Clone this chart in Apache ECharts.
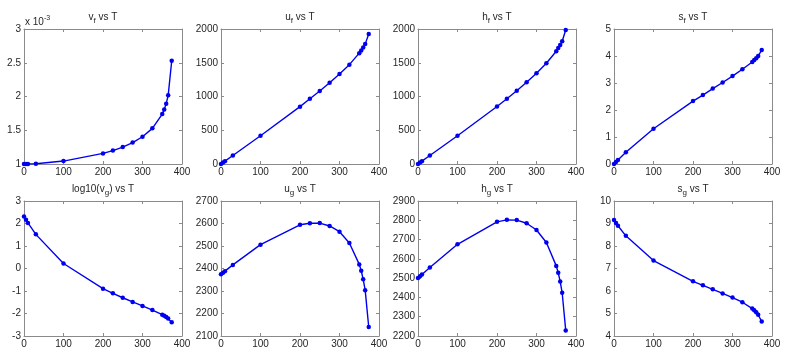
<!DOCTYPE html>
<html>
<head>
<meta charset="utf-8">
<script src="https://cdn.jsdelivr.net/npm/echarts@6/dist/echarts.min.js"></script>
<style>
html,body{margin:0;padding:0;background:#fff;}
#c{width:800px;height:360px;}
</style>
</head>
<body>
<div id="c"></div>
<script>
// Temperature (°C)
const T = [0.01, 5, 10, 30, 100, 200, 225, 250, 275, 300, 325, 350, 355, 360, 365, 374];
// v_f in units of 1e-3 m^3/kg
const vf = [1.0002, 1.0001, 1.0003, 1.0044, 1.0435, 1.157, 1.199, 1.251, 1.317, 1.404, 1.528, 1.740, 1.809, 1.894, 2.017, 2.53];
const uf = [0, 21, 42, 126, 419, 850, 966, 1081, 1204, 1333, 1472, 1642, 1682, 1725, 1776, 1925];
const hf = [0, 21, 42, 126, 419, 852, 967, 1086, 1211, 1345, 1493, 1671, 1717, 1764, 1818, 1985];
const sf = [0, 0.076, 0.151, 0.437, 1.307, 2.331, 2.554, 2.794, 3.019, 3.255, 3.509, 3.778, 3.850, 3.916, 4.003, 4.22];
const log10vg = [2.314, 2.167, 2.027, 1.517, 0.223, -0.895, -1.105, -1.300, -1.484, -1.664, -1.848, -2.055, -2.104, -2.158, -2.221, -2.39];
const ug = [2374.9, 2381.2, 2388.3, 2415.9, 2506.0, 2594.2, 2601.3, 2601.8, 2589.0, 2563.6, 2513.4, 2418.3, 2390, 2351.9, 2303.6, 2140];
const hg = [2500.9, 2510.1, 2519.2, 2555.6, 2675.6, 2792.0, 2802.2, 2801.0, 2784.5, 2749.6, 2685, 2563.6, 2528, 2482.0, 2424, 2229];
const sg = [9.1556, 9.0249, 8.8999, 8.4520, 7.3542, 6.4302, 6.2537, 6.0752, 5.8902, 5.7059, 5.5013, 5.2177, 5.1400, 5.0537, 4.9448, 4.64];

// Titles: [main, subscript, rest]
const titles = [
  ['v', 'f', ' vs T'], ['u', 'f', ' vs T'], ['h', 'f', ' vs T'], ['s', 'f', ' vs T'],
  ['log10(v', 'g', ') vs T'], ['u', 'g', ' vs T'], ['h', 'g', ' vs T'], ['s', 'g', ' vs T']
];
const xTicks = {min: 0, max: 400, interval: 100};
const yRanges = [
  {min: 1, max: 3, interval: 0.5},
  {min: 0, max: 2000, interval: 500},
  {min: 0, max: 2000, interval: 500},
  {min: 0, max: 5, interval: 1},
  {min: -3, max: 3, interval: 1},
  {min: 2100, max: 2700, interval: 100},
  {min: 2200, max: 2900, interval: 100},
  {min: 4, max: 10, interval: 1}
];
const seriesData = [vf, uf, hf, sf, log10vg, ug, hg, sg];

const colLeft = [24, 221, 418, 614];
const rowTop = [29, 201];
const W = 158, H = 135;
const FONT = 'Liberation Sans, Arial, Helvetica, sans-serif';
const AX = '#8a8a8a';
const LBL = '#262626';
const BLUE = '#0000f0';
const fmt = v => String(Math.round(v * 1000) / 1000);

const grid = [], xAxis = [], yAxis = [], series = [], graphic = [];
for (let i = 0; i < 8; i++) {
  const r = Math.floor(i / 4), c = i % 4;
  const left = colLeft[c], top = rowTop[r];
  grid.push({left: left, top: top, width: W, height: H, containLabel: false});
  const tick = {show: true, inside: true, length: 3, lineStyle: {color: AX}};
  const line = {show: true, onZero: false, lineStyle: {color: AX}};
  xAxis.push({type: 'value', gridIndex: i, position: 'bottom', min: xTicks.min, max: xTicks.max, interval: xTicks.interval,
    axisLine: line, axisTick: tick, splitLine: {show: false},
    axisLabel: {show: true, color: LBL, fontSize: 10, fontFamily: FONT, margin: 3, formatter: fmt}});
  xAxis.push({type: 'value', gridIndex: i, position: 'top', min: xTicks.min, max: xTicks.max, interval: xTicks.interval,
    axisLine: line, axisTick: tick, splitLine: {show: false}, axisLabel: {show: false}});
  const yr = yRanges[i];
  yAxis.push({type: 'value', gridIndex: i, position: 'left', min: yr.min, max: yr.max, interval: yr.interval,
    axisLine: line, axisTick: tick, splitLine: {show: false},
    axisLabel: {show: true, color: LBL, fontSize: 10, fontFamily: FONT, margin: 3, formatter: fmt}});
  yAxis.push({type: 'value', gridIndex: i, position: 'right', min: yr.min, max: yr.max, interval: yr.interval,
    axisLine: line, axisTick: tick, splitLine: {show: false}, axisLabel: {show: false}});
  const vals = seriesData[i];
  series.push({
    type: 'line', xAxisIndex: 2 * i, yAxisIndex: 2 * i,
    data: T.map((t, k) => [t, vals[k]]),
    symbol: 'circle', symbolSize: 4.5, showSymbol: true,
    lineStyle: {color: BLUE, width: 1.4},
    itemStyle: {color: BLUE},
    silent: true, animation: false
  });
  const t = titles[i];
  graphic.push({
    type: 'text', x: left + W / 2, y: top - 12,
    style: {
      text: '{a|' + t[0] + '}{s|' + t[1] + '}{a|' + t[2] + '}',
      align: 'center', verticalAlign: 'middle',
      rich: {
        a: {fontSize: 10, fontFamily: FONT, fill: LBL},
        s: {fontSize: 8, fontFamily: FONT, fill: LBL, padding: [7, 0, 0, 0]}
      }
    }
  });
}
// exponent label for v_f
graphic.push({
  type: 'text', x: colLeft[0] + 1, y: rowTop[0] - 7,
  style: {
    text: '{e|x 10}{p|-3}',
    align: 'left', verticalAlign: 'middle',
    rich: {
      e: {fontSize: 10, fontFamily: FONT, fill: LBL},
      p: {fontSize: 7, fontFamily: FONT, fill: LBL, padding: [0, 0, 7, 0]}
    }
  }
});

const chart = echarts.init(document.getElementById('c'), null, {renderer: 'canvas'});
chart.setOption({animation: false, grid, xAxis, yAxis, series, graphic});
</script>
</body>
</html>
